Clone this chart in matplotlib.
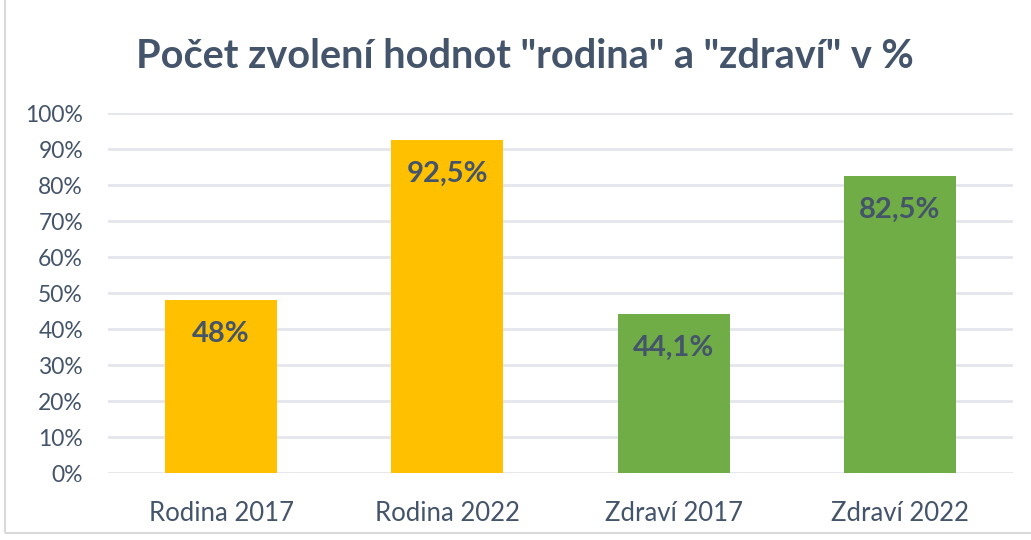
import numpy as np
import matplotlib.pyplot as plt
from matplotlib.patches import Rectangle

categories = ['Rodina 2017', 'Rodina 2022', 'Zdraví 2017', 'Zdraví 2022']
values = [48.0, 92.5, 44.1, 82.5]
labels = ['48%', '92,5%', '44,1%', '82,5%']
colors = ['#FFC000', '#FFC000', '#70AD47', '#70AD47']
title = 'Počet zvolení hodnot "rodina" a "zdraví" v %'

plt.rcParams['font.family'] = ['Lato', 'DejaVu Sans']
txt = '#44546A'
grid = '#E3E6EB'

fig = plt.figure(figsize=(10.31, 5.4), dpi=100)
ax = fig.add_axes([108/1031, 1-473/540, 905/1031, 360/540])

x = np.arange(len(categories))
ax.bar(x, values, width=0.495, color=colors, zorder=3)
for xi, v, lab in zip(x, values, labels):
    ax.text(xi, v - 9.3, lab, ha='center', va='center', fontsize=21,
            fontweight='bold', color=txt, zorder=4)

ax.set_xlim(-0.5, 3.5)
ax.set_ylim(0, 100)
ax.set_yticks(np.arange(0, 101, 10))
ax.set_yticklabels([f'{t}%' for t in range(0, 101, 10)])
ax.set_xticks(x)
ax.set_xticklabels(categories)
ax.tick_params(axis='both', length=0, colors=txt)
ax.tick_params(axis='y', pad=18, labelsize=16.5)
ax.tick_params(axis='x', pad=20, labelsize=18.5)
ax.yaxis.grid(True, color=grid, linewidth=2)
ax.set_axisbelow(True)
for s in ax.spines.values():
    s.set_visible(False)

fig.text(525/1031, 1-57/540, title, ha='center', va='center',
         fontsize=28.5, fontweight='bold', color=txt)

fig.patches.append(Rectangle((5/1031, 7/540), 1, 1, transform=fig.transFigure,
                             fill=False, edgecolor='#D9D9D9', linewidth=1.5))

fig.savefig('out.png', dpi=100)
